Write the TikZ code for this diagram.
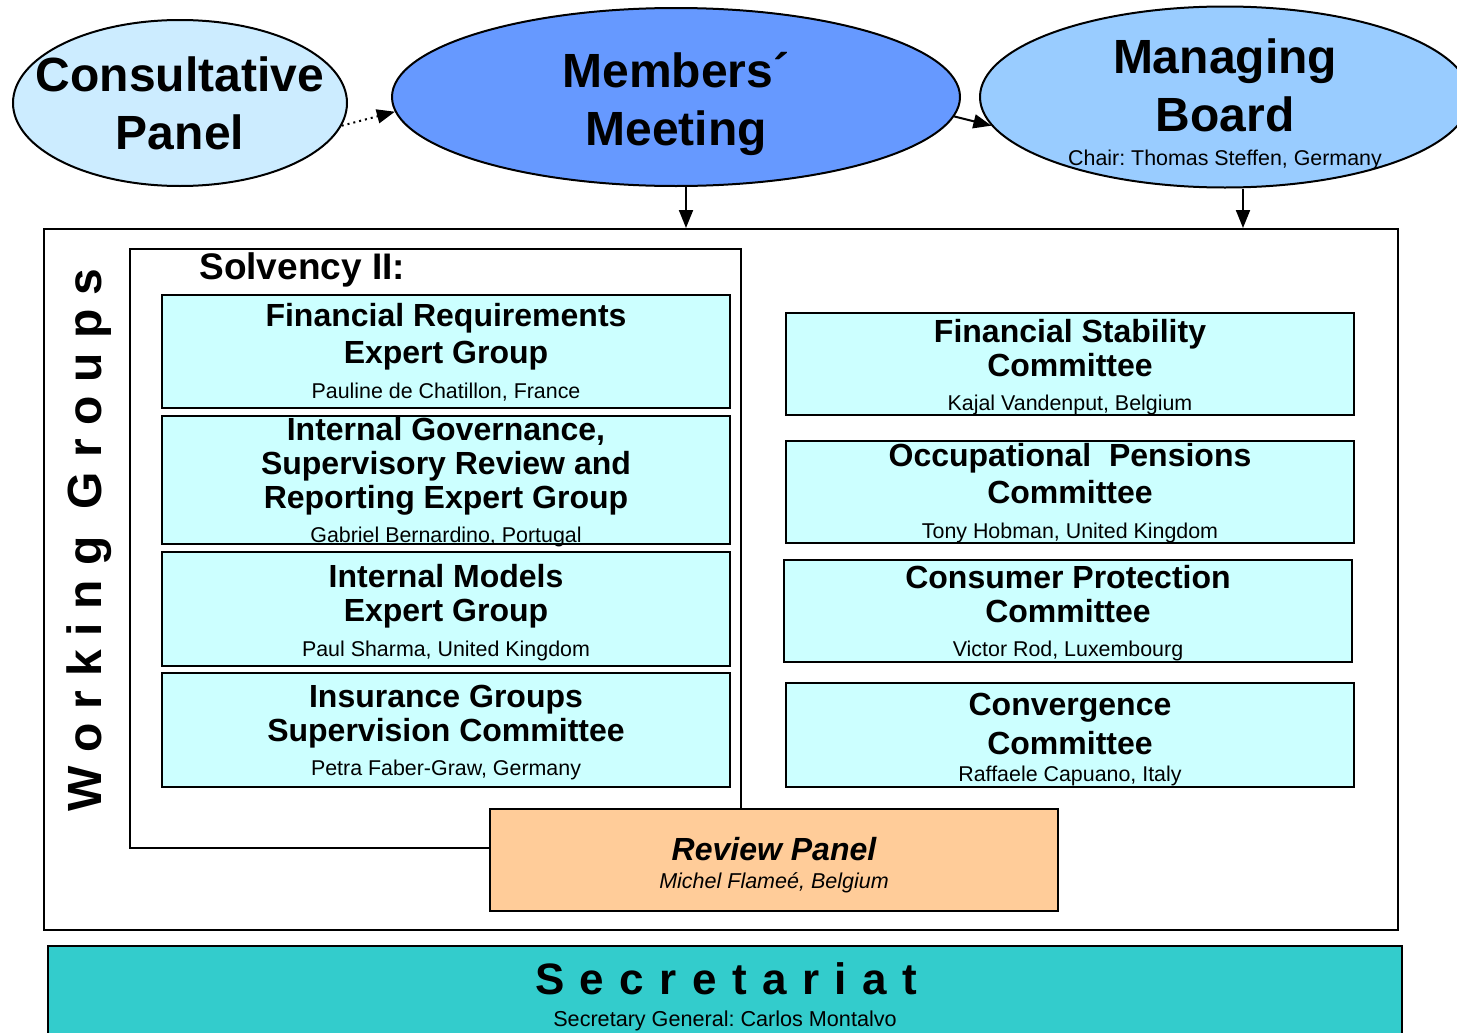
\documentclass[tikz,border=0pt]{standalone}
\usepackage{fontspec}
\setmainfont{Liberation Sans}
\usepackage{xcolor}
\usetikzlibrary{shapes,positioning,calc,arrows.meta}

\definecolor{cpanelblue}{RGB}{204,236,255}
\definecolor{memblue}{RGB}{102,153,255}
\definecolor{boardblue}{RGB}{153,204,255}
\definecolor{wgcyan}{RGB}{204,255,255}
\definecolor{revorange}{RGB}{255,204,153}
\definecolor{secteal}{RGB}{51,204,204}

\newcommand{\chairline}[1]{{\fontsize{10.7}{17}\selectfont\mdseries #1}}

\tikzset{
    bubble/.style={ellipse, draw, line width=1pt, inner xsep=-20pt, inner ysep=-6pt, align=center, font=\fontsize{24}{29}\selectfont\bfseries},
    wgbox/.style={draw, line width=1pt, fill=wgcyan, minimum width=284pt, inner sep=0pt, align=center, font=\fontsize{16}{17}\selectfont\bfseries},
    link/.style={line width=1pt, -{Triangle[length=9pt,width=7pt]}}
}

\begin{document}
\frenchspacing
\begin{tikzpicture}[x=0.5pt, y=-0.5pt]
    \useasboundingbox (0,0) rectangle (1457,1033);

    \node[bubble, fill=cpanelblue, minimum width=167pt, minimum height=83pt] (cpanel) at (180,103) {Consultative\\Panel};
    \node[bubble, fill=memblue, minimum width=284pt, minimum height=89pt, text height=53.5pt] (members) at (676,97) {Members´\\Meeting};
    \node[bubble, fill=boardblue, minimum width=245pt, minimum height=90.5pt, text height=70.5pt] (board) at (1225,97) {Managing\\Board\\[-12pt]\chairline{Chair: Thomas Steffen, Germany}};

    \draw[link, dotted] (cpanel.-8) -- (members.183);
    \draw[link] (members.-4) -- (board.187);

    \node[draw, line width=1pt, minimum width=677pt, minimum height=350.5pt, inner sep=0pt] (wgframe) at (721,579.5) {};
    \coordinate (mtail) at ([xshift=5pt]members.south);
    \coordinate (btail) at ([xshift=9pt]board.south);
    \draw[link] (mtail) -- (mtail |- wgframe.north);
    \draw[link] (btail) -- (btail |- wgframe.north);

    \node[rotate=90, font=\fontsize{24}{24}\selectfont\bfseries\addfontfeatures{LetterSpace=29}] (wglabel) at (89,540) {Working Groups};

    \node[draw, line width=1pt, fill=revorange, minimum width=284pt, minimum height=51pt, inner sep=0pt, align=center, text height=31.2pt, font=\fontsize{16}{16.5}\selectfont\bfseries\itshape] (review) at (774,860) {Review Panel\\[-2.5pt]{\fontsize{10.75}{16.5}\selectfont\mdseries Michel Flameé, Belgium}};

    \coordinate (solvtl) at (130,249);
    \coordinate (solvtr) at (741,249);
    \coordinate (solvbl) at (130,848);
    \draw[line width=1pt] (solvbl -| review.west) -- (solvbl) -- (solvtl) -- (solvtr) -- (solvtr |- review.north);
    \node[anchor=west, inner sep=0pt, font=\fontsize{18.5}{20}\selectfont\bfseries] (solvency) at (199,270) {Solvency II:};

    \node[wgbox, minimum height=56.5pt, text height=48.7pt] (finreq) at (446,351.5) {Financial Requirements\\[1.5pt]Expert Group\\[0.5pt]\chairline{Pauline de Chatillon, France}};
    \node[wgbox, minimum height=64pt, text height=62pt, text depth=0pt] (intgov) at (446,480) {Internal Governance,\\Supervisory Review and\\Reporting Expert Group\\[0pt]\chairline{Gabriel Bernardino, Portugal}};
    \node[wgbox, minimum height=57pt, text height=49.7pt] (intmod) at (446,609) {Internal Models\\Expert Group\\[0.5pt]\chairline{Paul Sharma, United Kingdom}};
    \node[wgbox, minimum height=57pt, text height=48.2pt] (insgrp) at (446,730) {Insurance Groups\\Supervision Committee\\[0pt]\chairline{Petra Faber-Graw, Germany}};

    \node[wgbox, minimum height=51pt, text height=48.7pt] (finstab) at (1070,364) {Financial Stability\\Committee\\[0pt]\chairline{Kajal Vandenput, Belgium}};
    \node[wgbox, minimum height=51pt, text height=48.4pt, text depth=1.5pt] (occpen) at (1070,492) {Occupational\ \ Pensions\\[1.5pt]Committee\\[0.5pt]\chairline{Tony Hobman, United Kingdom}};
    \node[wgbox, minimum height=51pt, text height=48.2pt] (conprot) at (1068,611) {Consumer Protection\\Committee\\[0pt]\chairline{Victor Rod, Luxembourg}};
    \node[wgbox, minimum height=52pt, text height=49.2pt] (converg) at (1070,735) {Convergence\\[2.5pt]Committee\\[-3.5pt]\chairline{Raffaele Capuano, Italy}};

    \node[draw, line width=1pt, fill=secteal, minimum width=677pt, minimum height=60pt, inner sep=0pt, anchor=north] (secbox) at (725,945) {};
    \node[font=\fontsize{22}{24}\selectfont\bfseries\addfontfeatures{LetterSpace=35}] (sectitle) at (726,979) {Secretariat};
    \node[font=\fontsize{10.8}{13}\selectfont] (secgen) at (725,1021) {Secretary General: Carlos Montalvo};
\end{tikzpicture}
\end{document}
